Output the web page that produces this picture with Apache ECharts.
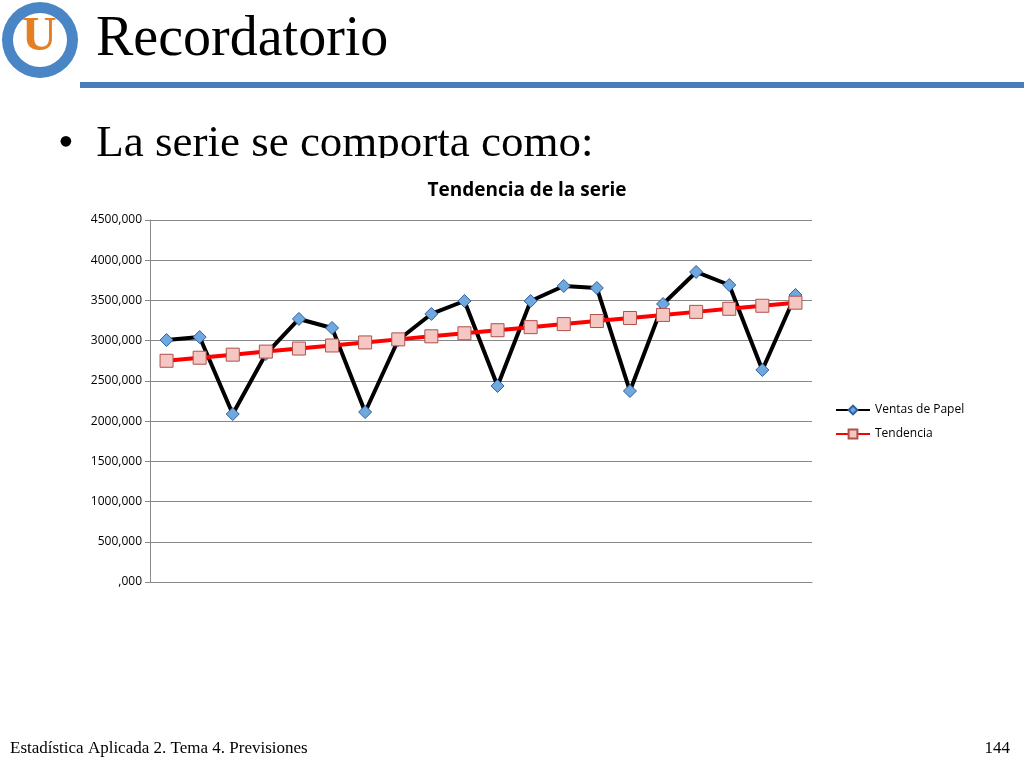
<!DOCTYPE html>
<html><head><meta charset="utf-8">
<script src="https://cdn.jsdelivr.net/npm/echarts@6/dist/echarts.min.js"></script>
<style>html,body{margin:0;background:#fff}#c{width:1024px;height:768px}</style>
</head><body><div id="c"></div>
<script>
var periods = ['1','2','3','4','5','6','7','8','9','10','11','12','13','14','15','16','17','18','19','20'];
var ventas = [3008,3045,2088,2834,3270,3158,2113,3008,3332,3493,2437,3493,3680,3655,2374,3456,3854,3692,2636,3568];
var tendencia = [2750,2788,2826,2864,2902,2940,2978,3016,3054,3092,3130,3168,3206,3244,3282,3320,3358,3396,3434,3472];

var chart = echarts.init(document.getElementById('c'));
chart.setOption({
    animation: false,
    title: {
        text: 'Tendencia de la serie', left: 522, top: 176, textAlign: 'center',
        textStyle: {fontFamily: 'Open Sans', fontSize: 19, fontWeight: 'bold', color: '#000'}
    },
    legend: {
        orient: 'vertical', left: 830, top: 399, itemGap: 12, itemWidth: 34, itemHeight: 11,
        textStyle: {fontFamily: 'Open Sans', fontSize: 12, color: '#000'},
        data: ['Ventas de Papel', 'Tendencia']
    },
    grid: {left: 150, right: 212, top: 220, bottom: 186},
    xAxis: {
        type: 'category', data: periods,
        axisLabel: {show: false},
        axisLine: {lineStyle: {color: '#888'}},
        axisTick: {lineStyle: {color: '#888'}, length: 6}
    },
    yAxis: {
        type: 'value', min: 0, max: 4500, interval: 500,
        axisLabel: {formatter: function (v) { return (v === 0 ? '' : v) + ',000'; },
            fontFamily: 'Open Sans', fontSize: 12, color: '#000'},
        axisLine: {show: true, lineStyle: {color: '#888'}},
        axisTick: {show: true, lineStyle: {color: '#888'}},
        splitLine: {lineStyle: {color: '#888'}}
    },
    graphic: [
        {type: 'circle', shape: {cx: 40, cy: 40, r: 38}, style: {fill: '#4a86c5'}},
        {type: 'circle', shape: {cx: 40, cy: 40, r: 27}, style: {fill: '#fff'}},
        {type: 'text', left: 22, top: 14, style: {text: 'U', font: 'bold 48px Liberation Serif', fill: '#e67e22'}},
        {type: 'text', left: 96, top: 12, style: {text: 'Recordatorio', font: '56px Liberation Serif', fill: '#000'}},
        {type: 'rect', shape: {x: 80, y: 82, width: 944, height: 6}, style: {fill: '#4a7ebb'}},
        {type: 'text', left: 58, top: 122, style: {text: '•  La serie se comporta como:', font: '45px Liberation Serif', fill: '#000'}},
        {type: 'rect', shape: {x: 40, y: 158, width: 700, height: 20}, style: {fill: '#fff'}},
        {type: 'text', left: 10, top: 740, style: {text: 'Estadística Aplicada 2. Tema 4. Previsiones', font: '17px Liberation Serif', fill: '#000'}},
        {type: 'text', right: 14, top: 740, style: {text: '144', font: '17px Liberation Serif', fill: '#000'}}
    ],
    series: [
        {
            name: 'Ventas de Papel', type: 'line', data: ventas,
            symbol: 'diamond', symbolSize: 13,
            lineStyle: {color: '#000', width: 4},
            itemStyle: {color: '#6fa8dc', borderColor: '#2f5f9e', borderWidth: 1}
        },
        {
            name: 'Tendencia', type: 'line', data: tendencia,
            symbol: 'rect', symbolSize: 13,
            lineStyle: {color: '#ff0000', width: 4},
            itemStyle: {color: '#f4c7c3', borderColor: '#b0504d', borderWidth: 1}
        }
    ]
});
</script></body></html>
